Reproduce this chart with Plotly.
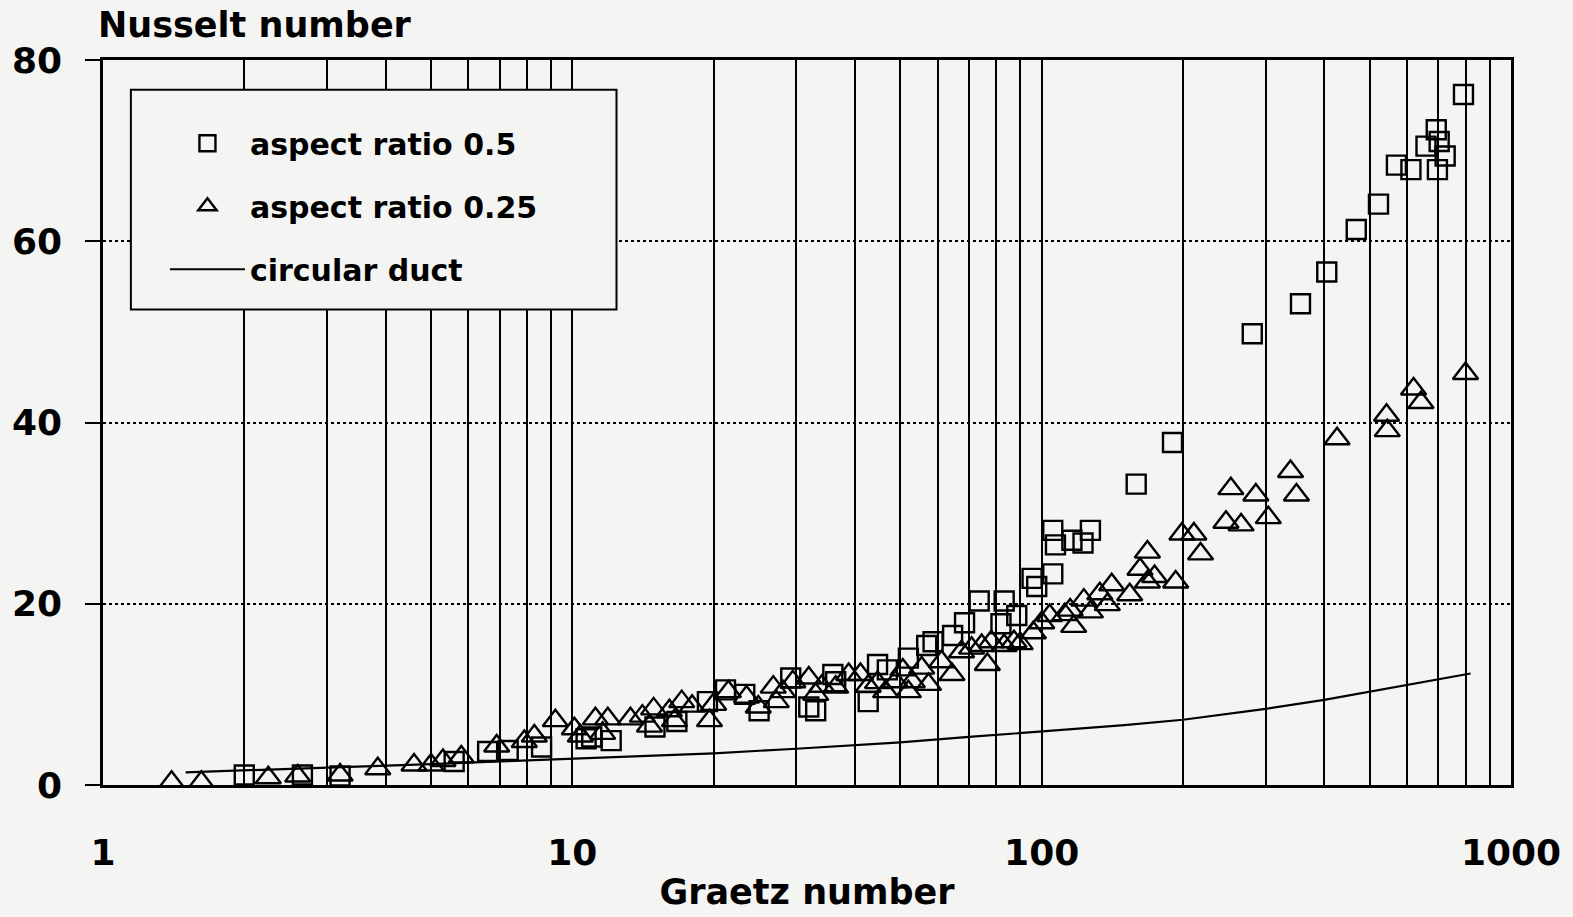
import plotly.graph_objects as go

# ---- data ----
sq_gz = [2.0, 2.66, 3.2, 5.6, 6.6, 7.3, 8.6, 10.7, 11.0, 12.1, 15.0, 16.7, 19.4, 21.2,
         23.3, 25.0, 29.2, 31.9, 33.0, 35.9, 36.4, 42.7, 44.7, 46.9, 52.0, 56.9, 58.7,
         64.6, 68.5, 73.6, 81.9, 83.2, 88.5, 95.4, 97.6, 105.6, 107, 105.6, 116, 122.5,
         127, 159, 190, 281, 356, 405, 468, 522, 570, 612, 659, 693, 697, 703, 724, 792]
sq_nu = [1.1, 1.1, 1.0, 2.6, 3.7, 3.8, 4.2, 5.1, 5.3, 4.9, 6.4, 7.0, 9.2, 10.5,
         10.0, 8.2, 11.8, 8.6, 8.2, 12.2, 11.4, 9.2, 13.3, 12.7, 14.0, 15.4, 15.8,
         16.5, 17.9, 20.3, 17.8, 20.3, 18.7, 22.8, 21.9, 23.3, 26.5, 28.1, 27.0, 26.7,
         28.1, 33.2, 37.8, 49.8, 53.1, 56.6, 61.3, 64.1, 68.4, 67.9, 70.5, 72.3, 67.9, 71.0, 69.4, 76.2]

tr_gz = [1.4, 1.62, 2.25, 2.6, 3.2, 3.85, 4.6, 5.0, 5.3, 5.8, 6.9, 7.9, 8.3, 9.2, 10.1,
         10.4, 11.2, 11.6, 11.9, 13.3, 14.1, 14.6, 14.9, 16.1, 16.5, 17.1, 18.0, 19.6,
         20.0, 21.5, 23.5, 24.9, 26.8, 27.2, 28.1, 29.5, 31.9, 33.0, 34.0, 36.4, 38.8,
         41.1, 42.7, 44.7, 46.5, 48.8, 50.6, 52.0, 53.0, 55.5, 57.4, 61.2, 64.4, 67.5,
         70.9, 74.5, 76.6, 78.1, 83.2, 87.3, 90, 96.0, 100, 104, 112, 115, 117, 123, 127,
         133, 138, 141, 154, 162, 168, 168, 174, 193, 199, 211, 218, 247, 253, 266, 286,
         304, 339, 349, 426, 543, 545, 620, 643, 800]
tr_nu = [0.3, 0.3, 0.8, 1.0, 1.1, 1.8, 2.2, 2.2, 2.7, 3.1, 4.3, 4.8, 5.4, 7.1, 6.2,
         5.4, 7.3, 5.7, 7.3, 7.3, 7.6, 6.5, 8.4, 8.2, 7.1, 9.2, 8.7, 7.1,
         8.9, 10.3, 9.7, 8.6, 10.8, 9.2, 10.3, 11.4, 11.8, 10.0, 10.9, 10.8, 12.2,
         12.2, 10.9, 11.3, 10.3, 11.4, 12.7, 10.3, 11.4, 12.9, 11.1, 13.6, 12.2, 14.7,
         15.1, 15.4, 13.3, 15.8, 15.4, 15.8, 15.6, 16.8, 17.9, 18.7, 18.8, 19.3, 17.5, 20.4, 19.1,
         21.1, 19.9, 22.1, 21.0, 23.8, 25.7, 22.4, 23.0, 22.4, 27.7, 27.7, 25.5, 29.0, 32.7, 28.7, 32.0,
         29.5, 34.6, 32.0, 38.2, 40.8, 39.1, 43.7, 42.2, 45.4]

circ_gz = [1.5, 2, 3, 5, 7, 10, 15, 20, 30, 50, 70, 100, 150, 200, 300, 400, 500, 600, 700, 820]
circ_nu = [1.4, 1.6, 1.9, 2.3, 2.6, 2.9, 3.2, 3.5, 4.0, 4.7, 5.3, 5.9, 6.6, 7.2, 8.4, 9.4,
           10.3, 11.0, 11.7, 12.3]

x_ticks = [1, 10, 100, 1000]
x_minor = [m * d for d in (1, 10, 100) for m in range(2, 10)]
y_ticks = [0, 20, 40, 60, 80]

BG = "#f4f4f2"
FONT = "DejaVu Sans"

fig = go.Figure()
fig.add_trace(go.Scatter(
    x=sq_gz, y=sq_nu, mode="markers", name="aspect ratio 0.5", legendgroup="a",
    marker=dict(symbol="square-open", size=19, color="black", line=dict(width=2.4, color="black"))))
fig.add_trace(go.Scatter(
    x=tr_gz, y=tr_nu, mode="markers", name="aspect ratio 0.25", legendgroup="b",
    marker=dict(symbol="triangle-up-open", size=22, color="black", line=dict(width=2.4, color="black"))))
fig.add_trace(go.Scatter(
    x=circ_gz, y=circ_nu, mode="lines", name="circular duct", legendgroup="c",
    line=dict(color="black", width=2.2)))

fig.update_layout(
    width=1573, height=917,
    margin=dict(l=100, r=61, t=60, b=124),
    paper_bgcolor=BG, plot_bgcolor=BG,
    font=dict(family=FONT, color="black", weight="bold"),
    showlegend=True,
    legend=dict(
        x=0.044, y=0.921, xanchor="left", yanchor="top",
        bgcolor="rgba(0,0,0,0)", borderwidth=0,
        font=dict(family=FONT, size=30, color="black", weight="bold"),
        itemwidth=75, traceorder="grouped", tracegroupgap=21,
    ),
    shapes=[dict(type="rect", xref="paper", yref="paper",
                 x0=0.0198, x1=0.3647, y0=0.656, y1=0.959,
                 fillcolor=BG, line=dict(color="black", width=2), layer="above")],
    annotations=[dict(text="Nusselt number", xref="paper", yref="paper",
                      x=-0.005, y=1.048, xanchor="left", yanchor="middle", showarrow=False,
                      font=dict(family=FONT, size=35, color="black", weight="bold"))],
)

fig.update_xaxes(
    type="log", range=[0, 3],
    tickvals=x_ticks, ticktext=[str(v) for v in x_ticks],
    ticks="", ticklabelstandoff=34,
    tickfont=dict(family=FONT, size=36, color="black", weight="bold"),
    showgrid=True, gridcolor="black", gridwidth=1.8,
    minor=dict(tickvals=x_minor, showgrid=True, gridcolor="black", gridwidth=1.8, ticks=""),
    showline=True, linecolor="black", linewidth=2.5, mirror=True,
    zeroline=False,
    title=dict(text="Graetz number", standoff=8,
               font=dict(family=FONT, size=35, color="black", weight="bold")),
)
fig.update_yaxes(
    range=[0, 80], tickvals=y_ticks,
    ticks="outside", ticklen=15, tickwidth=2, tickcolor="black", ticklabelstandoff=16,
    tickfont=dict(family=FONT, size=36, color="black", weight="bold"),
    showgrid=True, gridcolor="black", gridwidth=1.6, griddash="dot",
    showline=True, linecolor="black", linewidth=2.5, mirror=True,
    zeroline=False,
)

fig.write_html("out.html")
